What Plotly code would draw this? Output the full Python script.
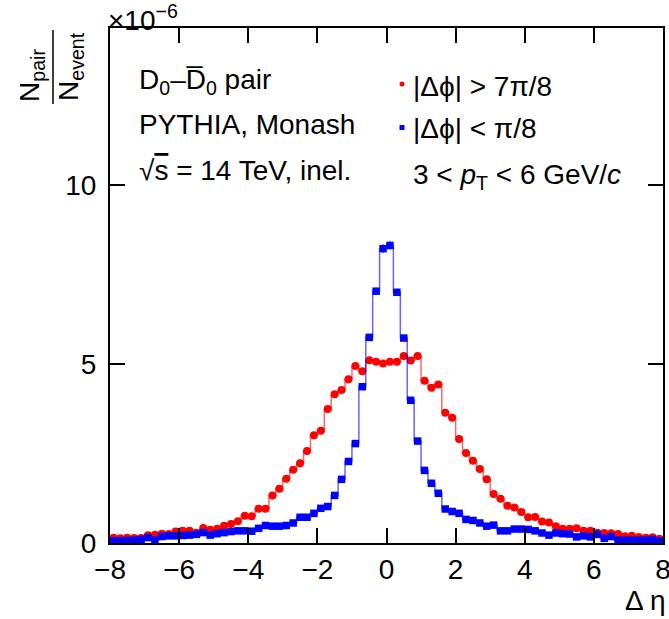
import numpy as np
import plotly.graph_objects as go

# ---- data (values in units of 1e-6) ----
deta_centers = [round(-7.9 + 0.2 * i, 1) for i in range(80)]

away_side = [  # |dphi| > 7pi/8  (red)
    0.15, 0.13, 0.15, 0.14, 0.14, 0.22, 0.23, 0.26, 0.25, 0.32,
    0.34, 0.34, 0.29, 0.42, 0.37, 0.40, 0.48, 0.53, 0.61, 0.76,
    0.75, 0.96, 0.96, 1.33, 1.52, 1.80, 2.05, 2.23, 2.57, 3.01,
    3.14, 3.75, 4.16, 4.28, 4.58, 4.95, 4.80, 5.11, 5.07, 5.02,
    5.07, 5.07, 5.23, 5.10, 5.23, 4.54, 4.34, 4.43, 3.64, 3.50,
    2.91, 2.52, 2.30, 2.07, 1.78, 1.37, 1.24, 1.04, 0.99, 0.87,
    0.72, 0.73, 0.60, 0.57, 0.47, 0.40, 0.40, 0.41, 0.34, 0.34,
    0.29, 0.28, 0.27, 0.25, 0.19, 0.20, 0.17, 0.15, 0.16, 0.12,
]
near_side = [  # |dphi| < pi/8  (blue)
    0.06, 0.06, 0.07, 0.08, 0.10, 0.15, 0.08, 0.18, 0.20, 0.20,
    0.21, 0.22, 0.24, 0.29, 0.22, 0.26, 0.29, 0.32, 0.34, 0.34,
    0.33, 0.41, 0.49, 0.47, 0.47, 0.49, 0.56, 0.72, 0.72, 0.83,
    0.97, 1.02, 1.33, 1.78, 2.28, 2.78, 4.37, 5.75, 7.04, 8.23,
    8.32, 7.01, 5.73, 3.99, 2.85, 2.03, 1.67, 1.39, 0.95, 0.88,
    0.83, 0.66, 0.63, 0.56, 0.47, 0.50, 0.34, 0.34, 0.39, 0.39,
    0.38, 0.34, 0.28, 0.22, 0.28, 0.26, 0.25, 0.17, 0.20, 0.17,
    0.24, 0.13, 0.18, 0.08, 0.08, 0.08, 0.08, 0.08, 0.10, 0.05,
]
x_ticks = [-8, -6, -4, -2, 0, 2, 4, 6, 8]
y_ticks = [0, 5, 10]

# ---- geometry helpers (pixel -> paper) ----
W, H = 669, 619
L, R, T, B = 110, 6, 28, 76
X0, X1 = L, W - R
YB, YT = H - B, T


def px(x):
    return (x - X0) / (X1 - X0)


def py(y):
    return (YB - y) / (YB - YT)


FONT = "Liberation Sans, Arial, Helvetica, sans-serif"

fig = go.Figure()

fig.add_trace(go.Scatter(
    x=deta_centers, y=away_side, mode="lines+markers",
    line=dict(shape="hvh", color="rgba(255,0,0,0.6)", width=1.5),
    marker=dict(symbol="circle", size=8, color="#ff0000", line=dict(width=0)),
    error_y=dict(type="percent", value=1.4, color="rgba(255,0,0,0.8)", thickness=1.5, width=0),
    showlegend=False, cliponaxis=True,
))
fig.add_trace(go.Scatter(
    x=deta_centers, y=near_side, mode="lines+markers",
    line=dict(shape="hvh", color="rgba(0,0,255,0.6)", width=1.5),
    marker=dict(symbol="square", size=7.5, color="#0000ff", line=dict(width=0)),
    error_y=dict(type="percent", value=1.4, color="rgba(0,0,255,0.8)", thickness=1.5, width=0),
    showlegend=False, cliponaxis=True,
))

axis_common = dict(
    showline=True, linecolor="black", linewidth=2, mirror="ticks",
    ticks="inside", ticklen=15, tickwidth=2, tickcolor="black",
    showgrid=False, zeroline=False, automargin=False,
    ticklabeloverflow="allow",
    tickfont=dict(family=FONT, size=28, color="black"),
)

fig.update_xaxes(range=[-8, 8], tickvals=x_ticks, ticklabelstandoff=0, **axis_common)
fig.update_yaxes(range=[0, 14.4], tickvals=y_ticks, ticklabelstandoff=6, **axis_common)

ann = []


def text(x, y, s, xanchor="left", size=28, angle=0):
    ann.append(dict(xref="paper", yref="paper", x=px(x), y=py(y), text=s,
                    showarrow=False, xanchor=xanchor, yanchor="middle",
                    textangle=angle, font=dict(family=FONT, size=size, color="black")))


text(137, 81, "D<sub>0</sub>–D\u0305<sub>0</sub> pair")
text(137, 124, "PYTHIA, Monash")
text(137, 170, "√<span style='text-decoration:overline'>s</span> = 14 TeV, inel.")
text(411, 86, "|Δϕ| &gt; 7π/8")
text(411, 128, "|Δϕ| &lt; π/8")
text(411, 176, "3 &lt; <i>p</i><sub>T</sub> &lt; 6 GeV/<i>c</i>")
text(668, 600, "Δ η", xanchor="right")
text(106, 18, "×10<sup>−6</sup>")
text(31, 76, "N<sub>pair</sub>", xanchor="center", angle=-90)
text(70, 67, "N<sub>event</sub>", xanchor="center", angle=-90)

shapes = [
    dict(type="line", xref="paper", yref="paper", x0=px(53), x1=px(53), y0=py(30), y1=py(104),
         line=dict(color="black", width=1.5)),
    dict(type="circle", xref="paper", yref="paper", x0=px(399.5), x1=px(404.5), y0=py(81.5), y1=py(86.5),
         fillcolor="#ff0000", line=dict(width=0)),
    dict(type="rect", xref="paper", yref="paper", x0=px(399.5), x1=px(404.5), y0=py(125), y1=py(130),
         fillcolor="#0000ff", line=dict(width=0)),
]

fig.update_layout(
    width=W, height=H,
    margin=dict(l=L, r=R, t=T, b=B, autoexpand=False),
    paper_bgcolor="white", plot_bgcolor="white",
    annotations=ann, shapes=shapes,
    font=dict(family=FONT, size=28, color="black"),
)

fig.write_html("out.html")
